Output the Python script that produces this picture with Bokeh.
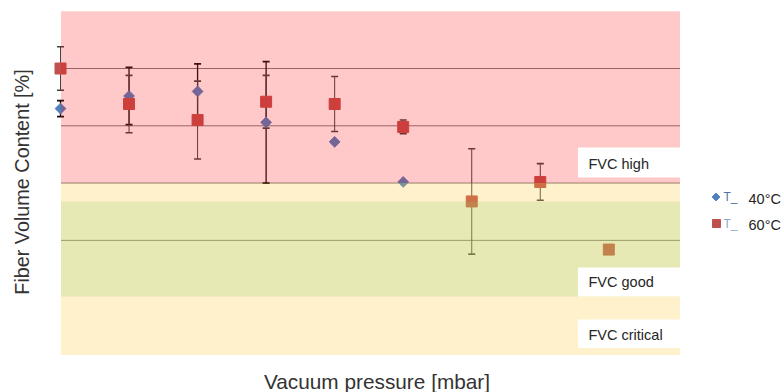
import numpy as np
from bokeh.plotting import figure
from bokeh.models import Label
from bokeh.core.properties import value
from bokeh.embed import file_html
from bokeh.resources import INLINE

# ---------------- data ----------------
sample_40 = [0, 1, 2, 3, 4, 5]
fvc_40 = [56.5, 57.6, 58.0, 55.3, 53.6, 50.1]
err_40 = [0.7, 2.5, 2.4, 5.3, 0.0, 0.0]

sample_60 = [0, 1, 2, 3, 4, 5, 6, 7, 8]
fvc_60 = [60.0, 56.9, 55.5, 57.1, 56.9, 54.9, 48.4, 50.1, 44.2]
err_60 = [1.9, 2.5, 3.4, 2.3, 2.4, 0.6, 4.6, 1.6, 0.0]

grid_levels = [45, 50, 55, 60]
zone_high = [50.0, 65.0]
zone_ok = [35.0, 50.0]
zone_good = [40.1, 48.4]
zone_labels = ["FVC high", "FVC good", "FVC critical"]
series_labels = ["40°C", "60°C"]
x_title = "Vacuum pressure [mbar]"
y_title = "Fiber Volume Content [%]"

# ---------------- pixel <-> data helpers ----------------
W, H = 784, 392
PX0, PX_STEP = 60.0, 68.54
VAL_TOP, PY_TOP, PY_UNIT = 65.0, 10.7, 11.46


def X(px):
    return (px - PX0) / PX_STEP


def Y(py):
    return VAL_TOP - (py - PY_TOP) / PY_UNIT


FONT = "Liberation Sans"
BLUE = "#4f81bd"
RED = "#c0504d"

p = figure(width=W, height=H, x_range=(X(0), X(W)), y_range=(Y(H), Y(0)),
           output_backend="svg", toolbar_location=None, min_border=0,
           x_axis_location=None, y_axis_location=None)
p.outline_line_color = None
p.grid.visible = False
p.background_fill_color = "white"
p.border_fill_color = "white"

bx0, bx1 = X(60.5), X(679.5)

# gridlines (under the translucent zones)
p.segment(x0=[bx0] * len(grid_levels), y0=grid_levels,
          x1=[bx1] * len(grid_levels), y1=grid_levels,
          line_color="#7f7f7f", line_width=1)


def error_bars(xs, ys, es, color, lw):
    xx = [x for x, e in zip(xs, es) if e > 0]
    lo = [y - e for y, e in zip(ys, es) if e > 0]
    hi = [y + e for y, e in zip(ys, es) if e > 0]
    p.segment(x0=xx, y0=lo, x1=xx, y1=hi, line_color=color, line_width=lw)
    p.scatter(xx, lo, marker="dash", size=7, line_color=color, line_width=1.6)
    p.scatter(xx, hi, marker="dash", size=7, line_color=color, line_width=1.6)


error_bars(sample_40, fvc_40, err_40, "#111111", 1.3)
error_bars(sample_60, fvc_60, err_60, "#444444", 1.0)

p.scatter(sample_40, fvc_40, marker="square", angle=np.pi / 4, size=7.6,
          fill_color=BLUE, line_color=BLUE)
p.scatter(sample_60, fvc_60, marker="square", size=11,
          fill_color=RED, line_color=RED)

# translucent zones drawn over the data
p.quad(left=[bx0], right=[bx1], bottom=[zone_ok[0]], top=[zone_ok[1]],
       fill_color=(255, 200, 50), fill_alpha=0.25, line_color=None)
p.quad(left=[bx0], right=[bx1], bottom=[zone_high[0]], top=[zone_high[1]],
       fill_color=(255, 0, 0), fill_alpha=0.21, line_color=None)
p.quad(left=[bx0], right=[bx1], bottom=[zone_good[0]], top=[zone_good[1]],
       fill_color=(145, 205, 95), fill_alpha=0.22, line_color=None)

# zone label boxes
box_px = [(147, 177, 163.3), (267, 296, 281.3), (319, 347.5, 334.2)]
p.quad(left=[X(577.5)] * 3, right=[bx1] * 3,
       bottom=[Y(b[1]) for b in box_px], top=[Y(b[0]) for b in box_px],
       fill_color="white", line_color=None)
p.text(x=[X(588)] * 3, y=[Y(b[2]) for b in box_px], text=zone_labels,
       text_font=value(FONT), text_font_size="14.5px", text_color="#262626",
       text_align="left", text_baseline="middle")

# legend
p.scatter([X(715.5)], [Y(196.5)], marker="square", angle=np.pi / 4, size=5.5,
          fill_color=BLUE, line_color=BLUE)
p.scatter([X(716)], [Y(223)], marker="square", size=8,
          fill_color=RED, line_color=RED)
p.text(x=[X(723)], y=[Y(196)], text=["T_"], text_font=value(FONT),
       text_font_size="12px", text_color="#4f74a8", text_align="left",
       text_baseline="middle")
p.text(x=[X(723)], y=[Y(223)], text=["T_"], text_font=value(FONT),
       text_font_size="12px", text_color="#8fa8cc", text_align="left",
       text_baseline="middle")
p.text(x=[X(748)] * 2, y=[Y(198), Y(224.3)], text=series_labels,
       text_font=value(FONT), text_font_size="14.5px", text_color="#262626",
       text_align="left", text_baseline="middle")

# axis titles
p.add_layout(Label(x=X(376.5), y=Y(380.8), text=x_title, text_align="center",
                   text_baseline="middle", text_font=FONT,
                   text_font_size="20.8px", text_color="#333333"))
p.add_layout(Label(x=X(21), y=Y(181.5), text=y_title, angle=np.pi / 2,
                   text_align="center", text_baseline="middle",
                   text_font=FONT, text_font_size="19.8px",
                   text_color="#333333"))

open("out.html", "w").write(file_html(p, INLINE))
